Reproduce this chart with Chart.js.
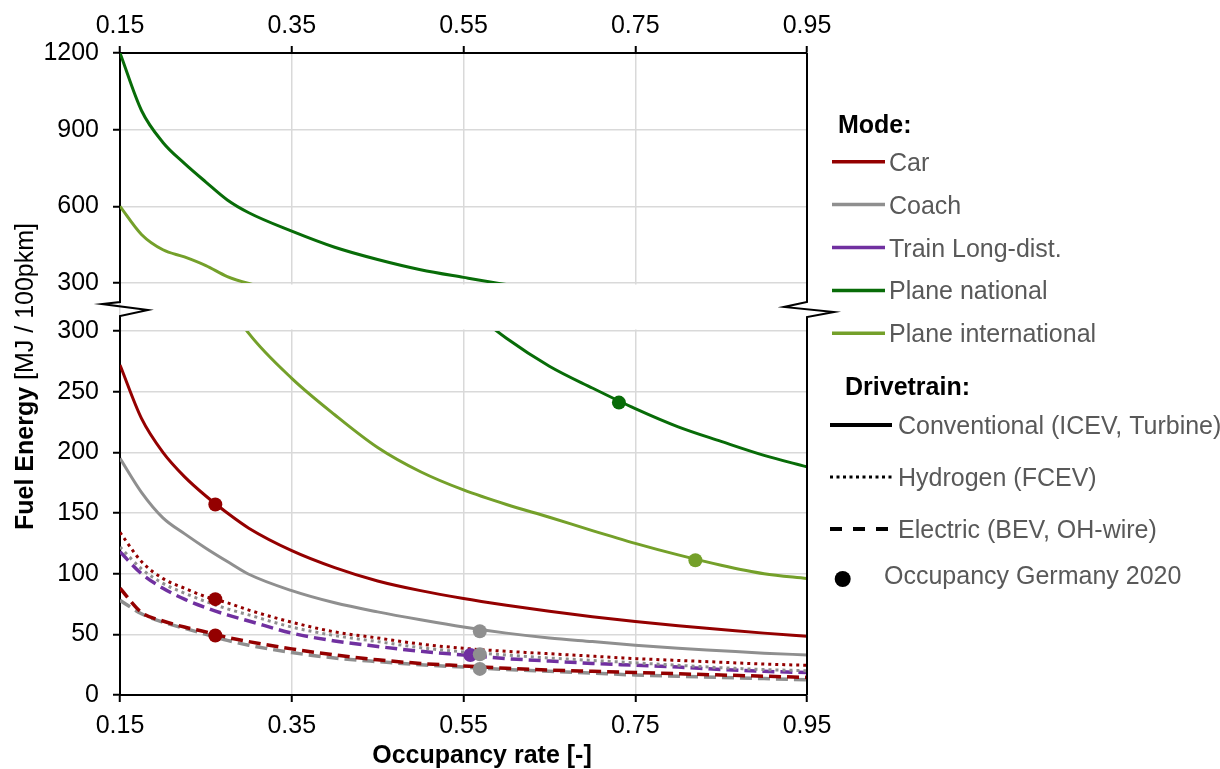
<!DOCTYPE html>
<html>
<head>
<meta charset="utf-8">
<title>Fuel energy vs occupancy rate</title>
<script src="https://cdn.jsdelivr.net/npm/chart.js@4.4.0/dist/chart.umd.min.js"></script>
<style>
  body { margin: 0; background: #fff; }
  #wrap { width: 1220px; height: 769px; }
</style>
</head>
<body>
<div id="wrap"><canvas id="fuelChart" width="1220" height="769"></canvas></div>
<script>
// occupancy rate samples (x) and fuel energy per series [MJ / 100pkm]
const occupancy = [0.15, 0.175, 0.2, 0.225, 0.25, 0.275, 0.3, 0.35, 0.4, 0.45, 0.5, 0.55, 0.6, 0.65, 0.7, 0.75, 0.8, 0.85, 0.9, 0.95];

const carConventional    = [272, 228, 200, 180, 164, 150, 137.5, 119, 105, 94, 86, 79.5, 74, 69, 64.5, 60.5, 57, 54, 51, 48.5];
const carHydrogen        = [134, 110, 96, 88, 81, 76, 70, 60, 52, 47, 42, 38.5, 36, 34, 32, 30, 28.5, 27, 25.5, 24.5];
const carElectric        = [88, 68, 61, 56, 52, 47.5, 44, 38, 33, 29, 26, 24, 22, 20.5, 19.5, 18.5, 17.5, 16.5, 15.5, 14.5];
const coachConventional  = [195, 167, 146, 133, 121, 110, 99.5, 86, 76, 68.5, 62, 56, 51, 47, 44, 41, 38.5, 36.5, 34.5, 33];
const coachHydrogen      = [122, 104, 92, 84, 77, 71, 66, 56, 49, 44, 39, 35.5, 33, 30.5, 28.5, 26.5, 24.5, 22.5, 21, 20];
const coachElectric      = [78, 67, 60, 55, 50, 45, 41, 35, 30.5, 27.5, 25, 23, 21, 19.5, 18, 16.5, 15.5, 14.5, 13.5, 12.5];
const trainElectric      = [118, 100, 88, 79, 72, 66, 61, 51, 44.5, 40, 36, 33, 30, 28, 26, 24.5, 23, 21, 19.5, 18.5];
const planeNational      = [1200, 975, 850, 768, 695, 625, 575, 503, 440, 392, 352, 322, 294, 271, 253, 236, 221, 209, 197.5, 188];
const planeInternational = [600, 490, 430, 402, 368, 325, 298, 261, 231, 204, 184, 169, 157, 146.5, 135.5, 125, 115.5, 107, 100, 96];

// occupancy Germany 2020 markers
const occ2020Mode = ['Car', 'Car', 'Car', 'Train Long-dist.', 'Coach', 'Coach', 'Coach', 'Plane national', 'Plane international'];
const occ2020X    = [0.261, 0.261, 0.261, 0.558, 0.569, 0.569, 0.569, 0.731, 0.82];
const occ2020Y    = [157, 79, 49, 33, 52.5, 33.5, 21.5, 241, 111];

const xTicks = [0.15, 0.35, 0.55, 0.75, 0.95];
const yTicksLower = [0, 50, 100, 150, 200, 250, 300];
const yTicksUpper = [300, 600, 900, 1200];

const modeLabels = ['Car', 'Coach', 'Train Long-dist.', 'Plane national', 'Plane international'];
const drivetrainLabels = ['Conventional (ICEV, Turbine)', 'Hydrogen (FCEV)', 'Electric (BEV, OH-wire)'];
const markerLabel = 'Occupancy Germany 2020';

// styles
const modeColors = {
  'Car': '#940000',
  'Coach': '#8f8f8f',
  'Train Long-dist.': '#7030a0',
  'Plane national': '#086c08',
  'Plane international': '#74a02a'
};
const driveDash = { conventional: [], hydrogen: [3, 4], electric: [12, 6] };
const FONT = '"Liberation Sans", Arial, sans-serif';

const series = [
  { mode: 'Car', drive: 'conventional', values: carConventional, axis: 'yBot' },
  { mode: 'Car', drive: 'hydrogen', values: carHydrogen, axis: 'yBot' },
  { mode: 'Car', drive: 'electric', values: carElectric, axis: 'yBot' },
  { mode: 'Coach', drive: 'conventional', values: coachConventional, axis: 'yBot' },
  { mode: 'Coach', drive: 'hydrogen', values: coachHydrogen, axis: 'yBot' },
  { mode: 'Coach', drive: 'electric', values: coachElectric, axis: 'yBot' },
  { mode: 'Train Long-dist.', drive: 'electric', values: trainElectric, axis: 'yBot' },
  { mode: 'Plane national', drive: 'conventional', values: planeNational, axis: 'yBot' },
  { mode: 'Plane international', drive: 'conventional', values: planeInternational, axis: 'yBot' },
  // plane curves again on the upper part of the broken axis
  { mode: 'Plane national', drive: 'conventional', values: planeNational, axis: 'yTop' },
  { mode: 'Plane international', drive: 'conventional', values: planeInternational, axis: 'yTop' }
];

const datasets = [{
  label: markerLabel,
  data: occ2020X.map((x, i) => ({ x: x, y: occ2020Y[i] })),
  showLine: false,
  pointRadius: 7,
  pointBorderWidth: 0,
  pointBackgroundColor: occ2020Mode.map(m => modeColors[m]),
  xAxisID: 'x',
  yAxisID: 'yBot',
  order: 0
}];

series.forEach(s => {
  datasets.push({
    label: s.mode + ' ' + s.drive,
    data: occupancy.map((x, i) => ({ x: x, y: s.values[i] })),
    borderColor: modeColors[s.mode],
    borderWidth: s.drive === 'electric' ? 3.5 : 3,
    borderDash: driveDash[s.drive],
    borderJoinStyle: 'round',
    pointRadius: 0,
    cubicInterpolationMode: 'monotone',
    fill: false,
    xAxisID: 'x',
    yAxisID: s.axis,
    order: 1
  });
});

function setTicks(list) {
  return function (scale) {
    scale.ticks = list.map(v => ({ value: v }));
  };
}

function drawBreak(ctx, x, yStart, yEnd, pts) {
  ctx.beginPath();
  ctx.moveTo(x, yStart);
  pts.forEach(p => ctx.lineTo(p[0], p[1]));
  ctx.lineTo(x, yEnd);
  ctx.stroke();
}

const brokenAxis = {
  id: 'brokenAxis',
  beforeDatasetsDraw(chart) {
    const { ctx, chartArea, scales } = chart;
    const top = scales.yTop.bottom;
    const bot = scales.yBot.top;
    ctx.save();
    ctx.fillStyle = '#fff';
    ctx.fillRect(chartArea.left + 1.5, top + 1.5, chartArea.width + 2, bot - top - 3);
    ctx.restore();
  },
  beforeDatasetDraw(chart, args) {
    const { ctx, chartArea } = chart;
    const ys = args.meta.yScale;
    ctx.save();
    ctx.beginPath();
    ctx.rect(chartArea.left - 4, ys.top, chartArea.width + 8, ys.height);
    ctx.clip();
  },
  afterDatasetDraw(chart) {
    chart.ctx.restore();
  },
  afterDraw(chart) {
    const { ctx, chartArea, scales } = chart;
    const L = chartArea.left, R = chartArea.right;
    const gTop = scales.yTop.bottom, gBot = scales.yBot.top;

    ctx.save();
    ctx.strokeStyle = '#000';
    ctx.lineWidth = 2;
    ctx.lineJoin = 'miter';
    // left axis through the break
    drawBreak(ctx, L, gTop, gBot, [[L, gTop + 19], [L - 18, gTop + 21], [L + 28, gTop + 27], [L, gTop + 33]]);
    // right frame line with break
    drawBreak(ctx, R, chartArea.top, chartArea.bottom, [[R, gTop + 19], [R - 23, gTop + 24], [R + 27, gTop + 29], [R, gTop + 34]]);

    // axis titles
    ctx.fillStyle = '#000';
    ctx.font = 'bold 25px ' + FONT;
    ctx.textAlign = 'center';
    ctx.textBaseline = 'alphabetic';
    ctx.fillText('Occupancy rate [-]', 482, 763);

    ctx.save();
    ctx.translate(33, 530);
    ctx.rotate(-Math.PI / 2);
    ctx.textAlign = 'left';
    ctx.font = 'bold 25px ' + FONT;
    ctx.fillText('Fuel Energy ', 0, 0);
    const w = ctx.measureText('Fuel Energy ').width;
    ctx.font = '25px ' + FONT;
    ctx.fillText('[MJ / 100pkm]', w, 0);
    ctx.restore();

    // legend: mode
    ctx.textAlign = 'left';
    ctx.font = 'bold 25px ' + FONT;
    ctx.fillStyle = '#000';
    ctx.fillText('Mode:', 838, 133);
    modeLabels.forEach((lab, i) => {
      const y = 161.7 + i * 42.9;
      ctx.strokeStyle = modeColors[lab];
      ctx.lineWidth = 3.5;
      ctx.setLineDash([]);
      ctx.beginPath();
      ctx.moveTo(832, y);
      ctx.lineTo(885, y);
      ctx.stroke();
      ctx.fillStyle = '#595959';
      ctx.font = '25px ' + FONT;
      ctx.fillText(lab, 889, y + 9);
    });

    // legend: drivetrain
    ctx.fillStyle = '#000';
    ctx.font = 'bold 25px ' + FONT;
    ctx.fillText('Drivetrain:', 845, 395);
    const legendDash = [[], [3, 3.5], [12, 11]];
    drivetrainLabels.forEach((lab, i) => {
      const y = 425 + i * 52;
      ctx.strokeStyle = '#000';
      ctx.lineWidth = i === 1 ? 3 : 4;
      ctx.setLineDash(legendDash[i]);
      ctx.beginPath();
      ctx.moveTo(830, y);
      ctx.lineTo(892, y);
      ctx.stroke();
      ctx.fillStyle = '#595959';
      ctx.font = '25px ' + FONT;
      ctx.fillText(lab, 898, y + 8.5);
    });
    ctx.setLineDash([]);
    ctx.fillStyle = '#000';
    ctx.beginPath();
    ctx.arc(842.7, 579, 8, 0, Math.PI * 2);
    ctx.fill();
    ctx.fillStyle = '#595959';
    ctx.fillText(markerLabel, 884, 584);
    ctx.restore();
  }
};

Chart.defaults.font.family = FONT;
Chart.defaults.font.size = 25;
Chart.defaults.color = '#000';

const gridStyle = { color: '#d9d9d9', lineWidth: 1.5, tickColor: '#000', tickWidth: 2, tickLength: 7 };
const borderStyle = { color: '#000', width: 2 };
const plainLabel = v => String(v);

new Chart(document.getElementById('fuelChart'), {
  type: 'line',
  data: { datasets: datasets },
  plugins: [brokenAxis],
  options: {
    responsive: false,
    animation: false,
    devicePixelRatio: 1,
    layout: { padding: { left: 0, right: 413, top: 0, bottom: 0 } },
    plugins: {
      legend: { display: false },
      tooltip: { enabled: false }
    },
    scales: {
      x: {
        type: 'linear',
        position: 'bottom',
        min: 0.15,
        max: 0.95,
        afterBuildTicks: setTicks(xTicks),
        afterFit(s) { s.height = 74; },
        ticks: { padding: 9, maxRotation: 0, autoSkip: false, callback: v => v.toFixed(2) },
        grid: gridStyle,
        border: borderStyle
      },
      x2: {
        type: 'linear',
        position: 'top',
        min: 0.15,
        max: 0.95,
        afterBuildTicks: setTicks(xTicks),
        afterFit(s) { s.height = 53; },
        ticks: { padding: 5, maxRotation: 0, autoSkip: false, callback: v => v.toFixed(2) },
        grid: Object.assign({}, gridStyle, { drawOnChartArea: false }),
        border: borderStyle
      },
      yTop: {
        type: 'linear',
        position: 'left',
        stack: 'fuel',
        stackWeight: 230,
        weight: 3,
        min: 300,
        max: 1200,
        afterBuildTicks: setTicks(yTicksUpper),
        afterFit(s) { s.width = 120; },
        ticks: { padding: 14, autoSkip: false, callback: plainLabel },
        grid: gridStyle,
        border: borderStyle
      },
      yGap: {
        type: 'linear',
        position: 'left',
        stack: 'fuel',
        stackWeight: 48,
        weight: 2,
        min: 0,
        max: 1,
        afterFit(s) { s.width = 120; },
        ticks: { display: false },
        grid: { display: false },
        border: { display: false }
      },
      yBot: {
        type: 'linear',
        position: 'left',
        stack: 'fuel',
        stackWeight: 364,
        weight: 1,
        min: 0,
        max: 300,
        afterBuildTicks: setTicks(yTicksLower),
        afterFit(s) { s.width = 120; },
        ticks: { padding: 14, autoSkip: false, callback: plainLabel },
        grid: gridStyle,
        border: borderStyle
      }
    }
  }
});
</script>
</body>
</html>
